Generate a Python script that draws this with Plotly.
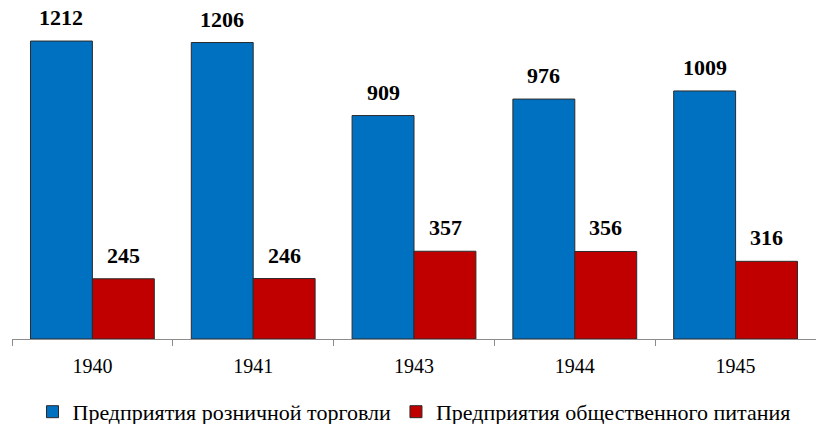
import plotly.graph_objects as go

years = ["1940", "1941", "1943", "1944", "1945"]
retail = [1212, 1206, 909, 976, 1009]
catering = [245, 246, 357, 356, 316]
series_names = ["Предприятия розничной торговли", "Предприятия общественного питания"]
colors = ["#0070C0", "#C00000"]

serif = "Times New Roman, Liberation Serif, DejaVu Serif, serif"

fig = go.Figure()
for name, vals, col in zip(series_names, [retail, catering], colors):
    fig.add_trace(go.Bar(
        x=years, y=vals, name=name,
        marker=dict(color=col, line=dict(color="#2b2b2b", width=1)),
    ))

# value labels above each bar (x given as category index)
for vals, shift in [(retail, -31), (catering, 31)]:
    for i, v in enumerate(vals):
        fig.add_annotation(
            x=i, y=v, text=f"<b>{v}</b>", showarrow=False,
            xshift=shift, yshift=9, yanchor="bottom",
            font=dict(family=serif, size=22, color="#000000"),
        )

fig.update_layout(
    width=816, height=424,
    margin=dict(l=12, r=0, t=0, b=85, autoexpand=False),
    paper_bgcolor="white", plot_bgcolor="white",
    barmode="group", bargap=0.23, bargroupgap=0,
    showlegend=True,
    legend=dict(
        orientation="h", x=0.5, xanchor="center", y=-0.215, yanchor="middle",
        font=dict(family=serif, size=22, color="#000000"),
        itemwidth=30, tracegroupgap=0,
    ),
    xaxis=dict(
        type="category", range=[-0.5, 4.5], autorange=False, automargin=False,
        showline=True, linecolor="#8c8c8c", linewidth=1,
        ticks="outside", tickson="boundaries", ticklen=6, tickcolor="#8c8c8c",
        tickfont=dict(family=serif, size=20, color="#000000"),
        ticklabelstandoff=9, showgrid=False,
    ),
    yaxis=dict(range=[0, 1379], visible=False, showgrid=False),
)

fig.write_html("out.html")
